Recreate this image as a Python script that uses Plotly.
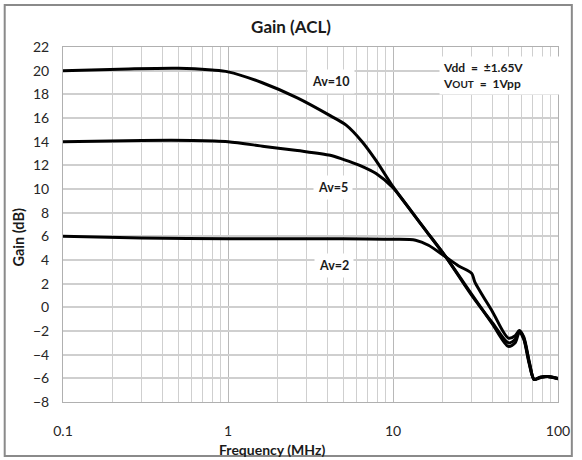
import math
import plotly.graph_objects as go

# ---- data (frequency in MHz, gain in dB) ----
f_av10 = [0.1, 0.25, 0.5, 0.8, 1.0, 1.6, 2.63, 4.16, 5.2, 6.5, 7.9, 10, 13.1, 16, 20.8, 30, 40, 50, 55, 58.3, 62, 67, 71.7, 78, 86.6, 100]
g_av10 = [20.0, 20.15, 20.2, 20.05, 19.9, 19.0, 17.7, 16.2, 15.4, 14.0, 12.4, 10.2, 8.0, 6.4, 4.3, 1.1, -1.4, -3.3, -3.0, -2.1, -2.7, -4.8, -6.1, -5.95, -5.85, -6.05]

f_av5 = [0.1, 0.3, 0.6, 1.0, 1.66, 2.63, 4.16, 5.0, 6.28, 7.9, 10, 13.1, 16, 20.8, 30, 40, 50, 55, 58.3, 62, 67, 71.7, 78, 86.6, 100]
g_av5 = [14.0, 14.1, 14.1, 14.0, 13.6, 13.25, 12.85, 12.5, 12.0, 11.3, 10.1, 8.0, 6.4, 4.3, 1.0, -1.3, -3.0, -2.7, -2.0, -2.6, -4.7, -6.1, -5.9, -5.85, -6.0]

f_av2 = [0.1, 0.3, 1.0, 5.0, 10, 13.7, 16.4, 20.8, 25, 30, 31.3, 40, 50, 55, 58.3, 62, 67, 71.7, 78, 86.6, 100]
g_av2 = [6.0, 5.85, 5.8, 5.8, 5.75, 5.67, 5.25, 4.27, 3.5, 2.87, 2.16, -0.35, -2.6, -2.4, -1.95, -2.5, -4.6, -6.1, -5.9, -5.85, -6.05]

y_ticks = list(range(-8, 23, 2))
x_ticks = [0.1, 1, 10, 100]
x_ticklabels = ["0.1", "1", "10", "100"]

FONT = "Lato"
TXT = "#262626"

fig = go.Figure()
for fx, gy in [(f_av10, g_av10), (f_av5, g_av5), (f_av2, g_av2)]:
    fig.add_trace(go.Scatter(x=fx, y=gy, mode="lines",
                             line=dict(color="black", width=3, shape="spline", smoothing=0.8),
                             showlegend=False, hoverinfo="skip"))

grid = "#cfcfcf"
fig.update_layout(
    width=582, height=460,
    margin=dict(l=63, r=18, t=47, b=58),
    paper_bgcolor="white", plot_bgcolor="white",
    font=dict(family=FONT, color=TXT),
    title=dict(text="<b>Gain (ACL)</b>", x=0.5, xanchor="center", y=1 - 27 / 460, yanchor="middle",
               font=dict(size=17, family=FONT, color="#1a1a1a")),
    xaxis=dict(type="log", range=[-1, 2], tickvals=x_ticks, ticktext=x_ticklabels,
               showgrid=True, gridcolor="#b8b8b8", gridwidth=1,
               minor=dict(dtick="D1", showgrid=True, gridcolor=grid, gridwidth=1, ticks=""),
               showline=True, linecolor="#b0b0b0", linewidth=1, mirror=True,
               ticks="", tickfont=dict(size=14, color=TXT), ticklabelstandoff=16, zeroline=False),
    yaxis=dict(range=[-8, 22], tickvals=y_ticks, showgrid=True, gridcolor=grid, gridwidth=2,
               showline=True, linecolor="#b0b0b0", linewidth=1, mirror=True,
               ticks="", tickfont=dict(size=14, color=TXT), ticklabelstandoff=10, zeroline=False),
)

ann_font = dict(family=FONT, size=12.5, color="#1a1a1a")
for txt, fx, gy in [("<b>Av=10</b>", 4.2, 19.1), ("<b>Av=5</b>", 4.3, 10.15), ("<b>Av=2</b>", 4.4, 3.5)]:
    fig.add_annotation(x=math.log10(fx), y=gy, text=txt, showarrow=False,
                       font=ann_font, bgcolor="white", borderpad=4)

fig.add_annotation(xref="paper", yref="paper", x=(444 - 63) / 501, y=(402 - 75) / 355,
                   xanchor="left", yanchor="middle", align="left", showarrow=False,
                   text="<b>Vdd  =  ±1.65V<br>V<span style='font-size:10px'>OUT</span>  =  1Vpp</b>",
                   font=dict(family=FONT, size=12, color="#1a1a1a"), bgcolor="white",
                   borderpad=3, width=114)

fig.add_annotation(xref="paper", yref="paper", x=(275 - 63) / 501, y=(402 - 449) / 355,
                   xanchor="center", yanchor="middle", showarrow=False,
                   text="<b>Frequency (MHz)</b>", font=dict(family=FONT, size=14, color="#1a1a1a"))
fig.add_annotation(xref="paper", yref="paper", x=(18 - 63) / 501, y=(402 - 238) / 355,
                   xanchor="center", yanchor="middle", showarrow=False, textangle=-90,
                   text="<b>Gain (dB)</b>", font=dict(family=FONT, size=14.5, color="#1a1a1a"))

fig.add_shape(type="rect", xref="paper", yref="paper",
              x0=(4 - 63) / 501, x1=(578 - 63) / 501, y0=(402 - 456) / 355, y1=(402 - 5) / 355,
              line=dict(color="#8a8a8a", width=2), fillcolor="rgba(0,0,0,0)", layer="below")

fig.write_html("out.html")
